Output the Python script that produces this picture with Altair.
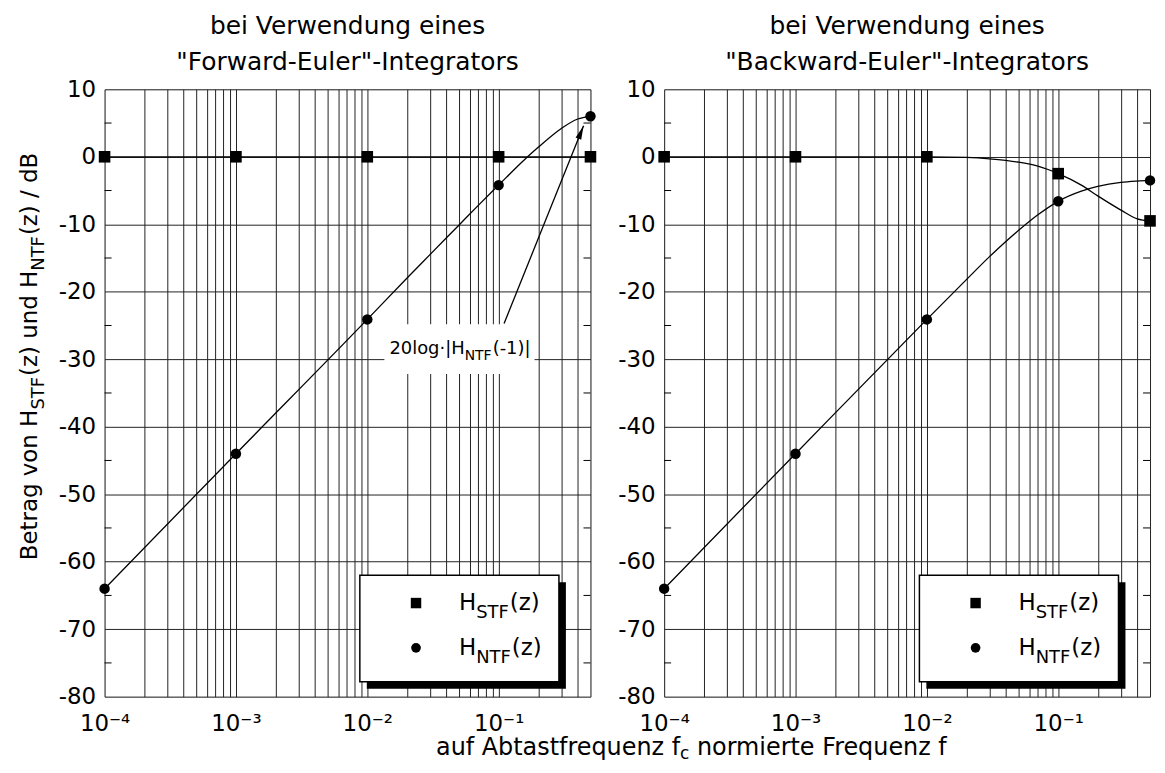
import altair as alt
import pandas as pd

FONT = "DejaVu Sans"
FS = 23       # main text size
FSS = 18      # subscript size

# ---------------- data ----------------
marker_f = [1e-4, 1e-3, 1e-2, 1e-1, 0.5]
fe_stf_marker = [0.0, 0.0, 0.0, 0.0, 0.0]
fe_ntf_marker = [-64.0, -44.0, -24.1, -4.2, 6.0]
be_stf_marker = [0.0, 0.0, 0.0, -2.5, -9.5]
be_ntf_marker = [-64.0, -44.0, -24.1, -6.6, -3.5]

curve_f = [1e-4, 1e-3, 1e-2, 0.02, 0.03, 0.05, 0.07, 0.1, 0.15, 0.2, 0.3, 0.4, 0.5]
fe_stf_curve = [0.0, 0.0, 0.0, 0.0, 0.0, 0.0, 0.0, 0.0, 0.0, 0.0, 0.0, 0.0, 0.0]
fe_ntf_curve = [-64.0, -44.0, -24.1, -18.0, -14.5, -10.1, -7.2, -4.2, -0.8, 1.4, 4.2, 5.6, 6.0]
be_stf_curve = [0.0, 0.0, 0.0, -0.1, -0.3, -0.8, -1.4, -2.5, -4.2, -5.8, -7.9, -9.2, -9.5]
be_ntf_curve = [-64.0, -44.0, -24.1, -18.2, -14.8, -10.9, -8.6, -6.6, -5.1, -4.4, -3.8, -3.6, -3.5]

# annotation arrow (from label box to the 0.5 point)
arrow_f = [0.110, 0.443]
arrow_db = [-24.7, 4.6]

# axis ticks / labels
x_ticks = [float(f"{m}e{e}") for e in (-4, -3, -2) for m in range(1, 10)] + [0.1, 0.2, 0.3, 0.4, 0.5]
x_decade_labels = [(0.0001, "10⁻⁴"), (0.001, "10⁻³"), (0.01, "10⁻²"), (0.1, "10⁻¹")]
y_ticks = [-80, -70, -60, -50, -40, -30, -20, -10, 0, 10]
y_minor = [-75, -65, -55, -45, -35, -25, -15, -5, 5]

# ---------------- layout ----------------
W, H = 488, 610
K = W / 493.0   # horizontal scale for pixel-placed items


def sx(v):
    return v * K


xs = alt.Scale(type="log", domain=[1e-4, 0.5], nice=False)
ys = alt.Scale(domain=[-80, 10], nice=False, zero=False)
label_expr = "".join(f"datum.value == {v} ? '{s}' : " for v, s in x_decade_labels) + "''"

xaxis = alt.Axis(values=x_ticks, labelExpr=label_expr, grid=True, ticks=False, domain=False,
                 title=None, labelFont=FONT, labelFontSize=FS, labelColor="black",
                 labelPadding=16, labelFlush=False, labelOverlap=False,
                 gridColor="#222", gridWidth=1)
yaxis = alt.Axis(values=y_ticks, grid=True, ticks=False, domain=False, title=None,
                 labelExpr="replace(datum.label, '−', '-')",
                 labelFont=FONT, labelFontSize=FS, labelColor="black", labelPadding=9,
                 labelFlush=False, labelOverlap=False, gridColor="#222", gridWidth=1)


def X(field="f"):
    return alt.X(f"{field}:Q", scale=xs, axis=xaxis)


def Y(field="dB"):
    return alt.Y(f"{field}:Q", scale=ys, axis=yaxis)


one = pd.DataFrame({"k": [0]})


def txt(text, x, y, size=FS, align="left", dx=0, dy=0, angle=0, baseline="middle"):
    kw = dict(text=text, align=align, baseline=baseline, font=FONT, fontSize=size,
              color="black", dx=dx, dy=dy)
    if angle:
        kw["angle"] = angle
    return alt.Chart(one).mark_text(**kw).encode(x=alt.value(x), y=alt.value(y))


def w(s, size):
    # DejaVu Sans advance widths (units per em 2048)
    adv = {"S": 1300, "T": 1251, "F": 1178, "N": 1532, "H": 1540, "(": 799, ")": 799,
           "z": 1075, "c": 1126, " ": 651, "u": 1298, "n": 1298, "d": 1300, "B": 1405,
           "-": 739, "1": 1303, "2": 1303, "0": 1303, "|": 690, "e": 1260, "t": 803,
           "r": 842, "a": 1255, "g": 1300, "v": 1212, "o": 1253, "/": 690, "l": 569,
           "·": 651}
    return sum(adv.get(ch, 1200) for ch in s) / 2048 * size


def legend():
    bx0, bx1, by0, by1 = sx(259), sx(461), 488, 595
    sh = 7
    layers = [
        alt.Chart(one).mark_rect(color="black").encode(
            x=alt.value(bx0 + sh), x2=alt.value(bx1 + sh), y=alt.value(by0 + sh), y2=alt.value(by1 + sh)),
        alt.Chart(one).mark_rect(fill="white", stroke="black", strokeWidth=1.5).encode(
            x=alt.value(bx0), x2=alt.value(bx1), y=alt.value(by0), y2=alt.value(by1)),
        alt.Chart(one).mark_point(shape="square", filled=True, color="black", size=110, opacity=1).encode(
            x=alt.value(sx(316)), y=alt.value(516)),
        alt.Chart(one).mark_point(shape="circle", filled=True, color="black", size=95, opacity=1).encode(
            x=alt.value(sx(316)), y=alt.value(561)),
    ]
    px = sx(377)
    for yy, sub in [(516, "STF"), (561, "NTF")]:
        layers.append(txt("H", px, yy, align="right"))
        layers.append(txt(sub, px, yy, size=FSS, dy=10))
        layers.append(txt("(z)", px, yy, dx=w(sub, FSS) + 1))
    return layers


def panel(stf_m, ntf_m, stf_c, ntf_c, title, left=False):
    mdf_s = pd.DataFrame({"f": marker_f, "dB": stf_m})
    mdf_n = pd.DataFrame({"f": marker_f, "dB": ntf_m})
    cdf_s = pd.DataFrame({"f": curve_f, "dB": stf_c})
    cdf_n = pd.DataFrame({"f": curve_f, "dB": ntf_c})
    minor = pd.DataFrame({"dB": y_minor})

    layers = [
        alt.Chart(minor).mark_rule(color="black", strokeWidth=1).encode(
            y=Y(), x=alt.value(0), x2=alt.value(7)),
        alt.Chart(minor).mark_rule(color="black", strokeWidth=1).encode(
            y=Y(), x=alt.value(W - 7), x2=alt.value(W)),
        alt.Chart(cdf_s).mark_line(color="black", strokeWidth=1.3, interpolate="monotone").encode(x=X(), y=Y()),
        alt.Chart(cdf_n).mark_line(color="black", strokeWidth=1.3, interpolate="monotone").encode(x=X(), y=Y()),
        alt.Chart(mdf_s).mark_point(shape="square", filled=True, color="black", size=135, opacity=1).encode(x=X(), y=Y()),
        alt.Chart(mdf_n).mark_point(shape="circle", filled=True, color="black", size=110, opacity=1).encode(x=X(), y=Y()),
    ]
    layers += legend()

    if left:
        # annotation 20log|H_NTF(-1)|
        afs, afss = 18, 14
        p1 = w("20log·|H", afs)
        p2 = w("NTF", afss)
        p3 = w("(-1)|", afs)
        cx, cy = sx(354) + 6, 261
        start = cx - (p1 + p2 + p3) / 2
        P = start + p1
        adf = pd.DataFrame({"f": arrow_f, "dB": arrow_db})
        layers += [
            alt.Chart(one).mark_rect(fill="white").encode(
                x=alt.value(start - 5), x2=alt.value(start + p1 + p2 + p3 + 5),
                y=alt.value(cy - 25), y2=alt.value(cy + 25)),
            alt.Chart(adf).mark_line(color="black", strokeWidth=1.3).encode(x=X(), y=Y()),
            alt.Chart(adf.tail(1)).mark_point(shape="M0,0L-0.35,1.6L0.35,1.6Z", filled=True,
                                              color="black", size=300, opacity=1, angle=22).encode(x=X(), y=Y()),
            txt("20log·|H", P, cy, size=afs, align="right"),
            txt("NTF", P, cy, size=afss, dy=7),
            txt("(-1)|", P, cy, size=afs, dx=p2 + 1),
        ]
        # y-axis title with subscripts (rotated)
        yx, y0 = -68, 473
        pieces = [("Betrag von H", FS, 0), ("STF", FSS, 7), ("(z) und H", FS, 0), ("NTF", FSS, 7), ("(z) / dB", FS, 0)]
        off = 0
        for s, size, dyy in pieces:
            layers.append(txt(s, yx, y0, size=size, dx=off, dy=dyy, angle=270, baseline="alphabetic"))
            off += w(s, size) + (1 if size == FSS else 0)
        # x-axis title with subscript
        XF = 24
        P = 578
        xy = 669
        layers += [
            txt("auf Abtastfrequenz f", P, xy, size=XF, align="right", baseline="alphabetic"),
            txt("c", P, xy, size=17, dy=4, baseline="alphabetic"),
            txt("normierte Frequenz f", P, xy, size=XF, dx=w("c", 17) + w(" ", XF), baseline="alphabetic"),
        ]

    return alt.layer(*layers).properties(
        width=W, height=H,
        title=alt.Title(["bei Verwendung eines", title], fontSize=25, font=FONT, fontWeight="normal",
                        anchor="middle", offset=3, lineHeight=37, color="black"))


left = panel(fe_stf_marker, fe_ntf_marker, fe_stf_curve, fe_ntf_curve, '"Forward-Euler"-Integrators', left=True)
right = panel(be_stf_marker, be_ntf_marker, be_stf_curve, be_ntf_curve, '"Backward-Euler"-Integrators')

chart = alt.hconcat(left, right, spacing=74, bounds="flush").properties(
    padding={"left": 10, "top": 3, "right": 0, "bottom": 0}
).configure_view(stroke="black", strokeWidth=2).configure(background="white")

chart.save("out.html", embed_options={"renderer": "svg", "actions": False})
